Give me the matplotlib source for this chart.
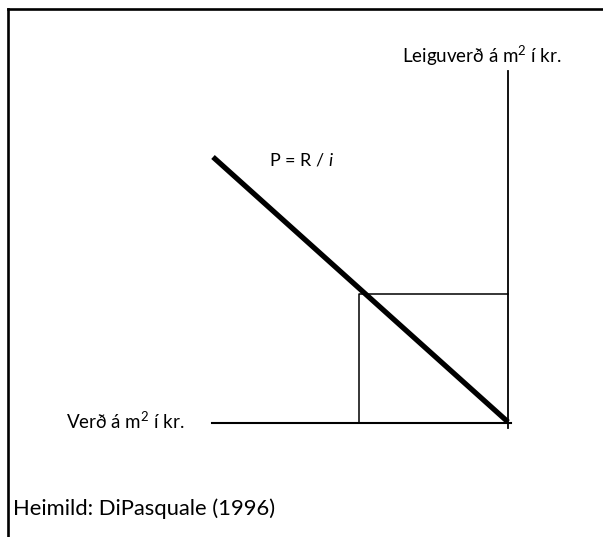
import matplotlib
matplotlib.use("Agg")
import matplotlib.pyplot as plt

plt.rcParams['font.family'] = ['Lato', 'DejaVu Sans']
plt.rcParams['mathtext.fontset'] = 'custom'
plt.rcParams['mathtext.rm'] = 'Lato'
plt.rcParams['mathtext.it'] = 'Lato:italic'

# Diagram geometry (pixel-like units, y downward)
frame_left_x = 8
frame_top_y = 9
origin = (508, 423)              # intersection of the two axes
rent_axis_top = 71               # top of vertical (rent) axis
rent_axis_bottom = 428
price_axis_left = 212            # left end of horizontal (price) axis
price_axis_right = 511
demand_line_x = [213, 508]       # P = R / i line
demand_line_y = [157, 422]
rect_left = 359
rect_top = 294

labels = {
    "rent": "Leiguverð á m$^2$ í kr.",
    "price": "Verð á m$^2$ í kr.",
    "formula": "P = R / $\\mathit{i}$",
    "source": "Heimild: DiPasquale (1996)",
}

fig = plt.figure(figsize=(6.03, 5.37), dpi=100)
ax = fig.add_axes([0, 0, 1, 1])
ax.set_xlim(0, 603)
ax.set_ylim(537, 0)
ax.axis('off')

# frame
ax.plot([frame_left_x, frame_left_x], [537, frame_top_y], color='black', lw=1.9, solid_capstyle='projecting')
ax.plot([frame_left_x, 603], [frame_top_y, frame_top_y], color='black', lw=1.9, solid_capstyle='projecting')

# axes
ax.plot([origin[0], origin[0]], [rent_axis_top, rent_axis_bottom], color='black', lw=1.3)
ax.plot([price_axis_left, price_axis_right], [origin[1], origin[1]], color='black', lw=1.5)

# rectangle
ax.plot([rect_left, rect_left, origin[0]], [origin[1], rect_top, rect_top], color='black', lw=1.1)

# demand line
ax.plot(demand_line_x, demand_line_y, color='black', lw=3.8, solid_capstyle='butt')

# texts
ax.text(482, 56, labels["rent"], fontsize=13.5, ha='center', va='center')
ax.text(125, 421, labels["price"], fontsize=13.5, ha='center', va='center')
ax.text(302, 160, labels["formula"], fontsize=13, ha='center', va='center')
ax.text(13, 509, labels["source"], fontsize=15.8, ha='left', va='center')

fig.savefig("out.png", dpi=100)
